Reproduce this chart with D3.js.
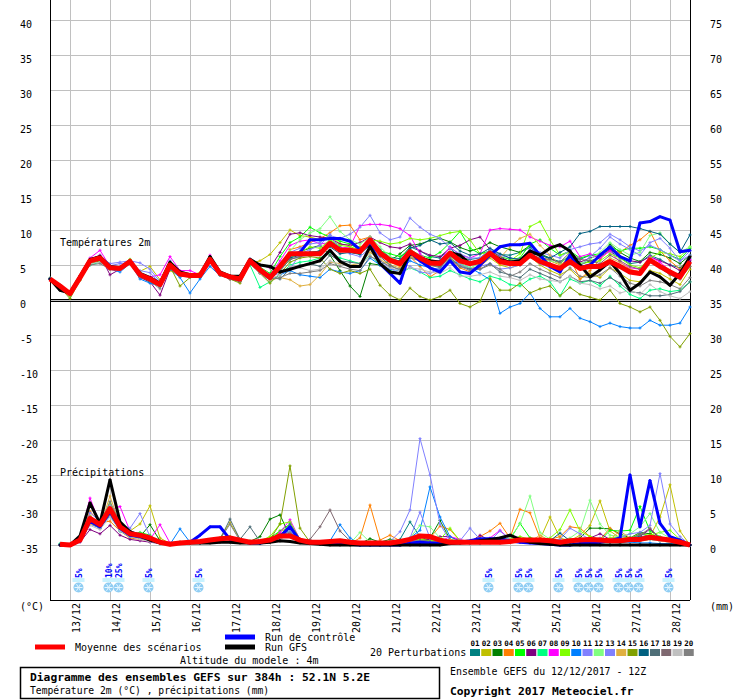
<!DOCTYPE html>
<html>
<head>
<meta charset="utf-8">
<script src="https://cdn.jsdelivr.net/npm/d3@7"></script>
<style>
  body { margin: 0; background: #fff; }
  svg text { font-family: "DejaVu Sans Mono", monospace; fill: #000; }
</style>
</head>
<body>
<svg id="chart" width="740" height="700"></svg>
<script>
// run 12/12/2017 12Z, one value every 6h (temp from 0h, precip from 6h)
const dayLabels = ["13/12","14/12","15/12","16/12","17/12","18/12","19/12","20/12","21/12","22/12","23/12","24/12","25/12","26/12","27/12","28/12"];
const tempTicks = [-35,-30,-25,-20,-15,-10,-5,0,5,10,15,20,25,30,35,40];
const precipTicks = [0,5,10,15,20,25,30,35,40,45,50,55,60,65,70,75];
const memberColors = ["#008080","#c0c000","#008000","#ff8000","#00ff00","#800080","#00ff80","#ff00ff","#80ff00","#0080ff",
                      "#8080ff","#80ff80","#8080ff","#e0b040","#80a000","#006080","#4f6f78","#7f6870","#c0c0c0","#808080"];

const tempMean = [3.0,2.0,0.9,3.2,5.6,6.0,4.6,4.5,5.5,3.6, 3.0,2.2,5.0,3.7,3.5,3.5,5.8,3.8,3.3,3.0, 5.6,4.3,3.2,4.8,6.6,6.6,6.6,6.6,8.1,7.1,
  7.1,6.9,8.6,6.7,5.7,5.2,6.9,6.0,5.3,5.2, 6.7,5.6,5.2,5.5,6.7,5.5,5.2,5.2,6.4,5.5, 5.0,4.5,5.5,4.5,4.8,4.8,5.5,4.8,4.0,3.8, 5.7,4.8,4.0,3.3,5.5];
const tempControl = [3.0,2.0,0.9,3.2,5.6,6.1,4.6,4.5,5.5,3.6, 3.0,2.2,5.0,3.7,3.5,3.5,5.8,3.8,3.2,3.0, 5.6,4.3,3.2,4.8,6.4,6.8,8.6,8.6,8.8,8.8,
  8.4,7.2,8.0,5.2,3.8,2.4,6.8,5.6,4.6,4.0, 5.6,4.0,3.8,5.0,6.4,7.6,7.9,7.9,8.1,6.4, 4.8,4.0,6.4,4.6,5.0,6.4,7.6,6.2,5.6,11.0, 11.2,11.9,11.4,6.9,7.1];
const tempGfs = [3.0,1.4,1.0,3.4,5.8,6.2,4.8,4.6,5.6,3.8, 3.2,2.4,5.4,4.0,3.6,3.6,6.2,4.0,3.4,3.4, 5.8,5.0,4.8,4.0,4.4,4.8,5.2,5.6,7.1,5.5,
  4.8,4.8,7.6,5.2,4.0,3.8,6.7,6.0,5.6,5.4, 6.8,6.4,5.2,5.6,6.6,5.8,5.4,5.6,7.0,6.4, 7.4,7.9,7.0,5.0,3.3,4.3,5.5,3.8,1.4,2.4, 4.0,3.3,2.1,3.8,6.2];
const tempPerturbations = [
  [3.0,1.8,0.8,3.4,5.8,5.9,4.5,4.4,5.3,3.4, 2.8,2.0,4.9,3.6,3.4,3.4,5.6,3.6,3.2,2.8, 5.4,4.1,3.0,4.2,5.8,6.2,6.8,7.0,8.5,7.6, 6.8,6.5,8.8,7.2,6.1,5.9,7.6,7.0,6.2,6.0, 7.4,6.0,5.8,6.0,7.2,6.5,6.4,6.8,7.5,6.4, 5.9,5.5,6.2,5.8,6.4,6.2,7.0,6.0,5.2,5.4, 6.4,5.8,5.0,4.6,6.0],
  [3.1,2.0,1.0,3.0,5.4,6.2,4.8,4.6,5.6,4.1, 4.8,2.9,4.2,3.5,3.6,3.9,5.5,3.7,3.4,3.3, 5.2,5.6,6.5,8.2,10.0,9.2,9.0,8.6,9.2,8.0, 7.8,7.6,8.0,6.6,5.4,5.0,6.2,5.6,4.9,4.8, 6.0,5.0,4.5,4.8,6.0,5.0,4.6,5.0,6.2,5.0, 4.2,3.6,4.4,3.0,3.8,3.2,4.6,3.8,2.8,2.6, 4.2,3.8,3.0,2.2,4.4],
  [3.0,2.1,0.8,3.3,5.7,6.1,4.7,4.4,5.6,3.4, 2.5,2.0,5.1,3.8,3.3,3.2,6.0,3.9,3.1,2.7, 5.5,4.4,3.0,4.5,6.0,6.9,7.4,7.8,6.4,4.2, 2.0,0.5,5.2,5.0,5.6,6.6,7.8,8.0,8.5,8.8, 8.3,7.5,7.0,7.4,8.2,7.6,7.2,6.8,7.8,6.6, 6.0,5.2,6.4,5.0,5.6,6.0,8.0,6.8,6.0,5.5, 6.8,6.5,6.0,5.2,6.4],
  [3.0,2.0,1.0,3.1,5.5,6.3,4.6,4.3,5.4,3.8, 3.2,2.4,4.8,3.9,3.6,3.5,5.9,3.9,3.5,3.1, 5.8,4.5,3.5,5.0,7.2,7.6,8.2,8.8,9.6,10.6, 10.7,8.6,9.0,6.8,5.4,4.8,6.2,4.8,3.3,4.2, 5.8,4.6,4.0,4.6,6.4,5.2,5.0,5.4,7.0,6.2, 5.6,5.0,6.0,3.0,4.2,5.8,7.2,6.8,7.8,8.6, 9.8,7.0,5.6,4.4,6.2],
  [3.1,2.0,0.6,3.0,5.3,5.8,4.8,4.7,5.6,3.7, 2.8,2.3,4.8,3.5,3.4,3.3,5.7,3.6,3.2,2.9, 5.3,4.7,3.8,6.2,8.2,9.0,10.4,9.6,9.0,8.4, 8.0,7.2,8.0,7.0,6.6,6.2,7.2,6.4,6.0,6.8, 8.2,9.8,7.4,6.6,7.0,6.2,5.8,6.0,8.0,8.6, 7.4,6.4,7.0,6.0,6.4,6.6,7.6,7.0,7.4,7.4, 7.6,7.2,6.4,5.8,7.4],
  [3.0,2.0,1.0,3.3,5.8,6.4,3.6,4.4,5.3,3.2, 2.6,0.7,4.4,3.6,3.3,3.4,5.9,3.6,3.0,2.6, 5.6,5.0,4.6,6.8,9.4,9.6,9.2,9.0,8.8,8.0, 7.8,8.2,9.0,8.2,7.6,7.4,8.0,7.0,6.4,6.2, 7.4,7.8,8.6,9.0,7.2,6.2,5.4,5.0,6.6,5.6, 5.2,4.6,5.8,5.4,6.0,6.4,7.2,6.2,5.6,5.4, 6.2,5.6,5.0,4.2,5.6],
  [3.1,2.0,0.9,3.0,5.0,5.4,4.6,4.6,5.4,3.4, 2.7,2.1,5.0,3.6,3.5,3.5,5.6,3.8,3.3,3.0, 5.0,1.8,2.6,3.6,5.0,5.4,5.6,6.0,6.8,6.0, 5.6,5.2,6.4,5.0,4.2,3.8,4.6,4.0,3.2,3.4, 4.2,3.6,3.0,2.6,3.4,3.0,2.2,2.0,3.0,3.4, 2.6,0.6,3.0,2.4,2.8,2.0,3.4,2.0,0.8,0.2, 1.4,1.6,1.2,1.4,2.6],
  [3.1,2.1,1.0,3.4,6.0,7.1,4.8,4.7,5.6,3.8, 3.3,3.6,6.2,4.2,4.2,3.6,6.4,4.0,3.4,3.1, 5.8,4.6,3.6,5.6,7.8,8.4,8.6,8.0,8.2,7.4, 7.6,10.6,10.8,10.8,10.6,10.2,9.2,6.6,5.4,5.6, 7.6,6.4,6.0,6.6,10.0,10.2,10.1,10.0,9.0,8.4, 7.8,7.6,8.4,6.2,6.6,6.0,7.0,5.4,4.6,4.4, 6.2,5.4,4.2,3.4,5.8],
  [3.0,2.0,0.8,3.2,5.8,6.2,4.5,4.6,5.8,3.8, 3.2,2.0,5.2,3.8,3.6,3.7,6.2,4.0,3.2,2.8, 5.8,4.2,3.0,4.4,6.0,6.8,7.6,7.4,8.6,7.8, 7.6,7.2,8.6,8.4,8.0,8.2,8.8,8.6,8.8,9.2, 9.6,9.8,8.6,6.6,6.8,5.6,5.6,6.6,10.5,11.2, 8.6,6.4,6.8,5.2,5.4,5.6,6.6,6.0,5.0,4.6, 6.0,6.8,6.6,6.2,7.6],
  [3.0,1.9,0.9,3.1,5.4,5.6,4.4,4.0,5.2,3.0, 2.4,2.0,4.4,3.2,1.0,3.0,4.8,3.5,3.2,2.9, 5.2,3.8,2.8,3.6,4.2,3.6,3.4,3.2,4.4,4.0, 3.8,4.2,6.0,5.0,4.4,4.2,5.6,5.0,4.6,4.4, 5.6,5.2,4.6,3.8,2.9,-1.9,-1.0,-0.5,1.0,-1.2, -2.4,-2.4,-1.2,-2.6,-3.1,-3.8,-3.3,-3.8,-4.0,-4.0, -2.9,-3.6,-3.6,-3.3,-1.0],
  [3.0,2.0,1.0,3.3,5.6,6.0,4.9,5.2,5.3,4.2, 3.9,2.4,5.6,3.9,3.6,3.6,5.8,3.7,3.4,3.1, 5.9,4.4,3.4,5.2,6.8,7.4,8.0,8.2,9.2,8.8, 9.4,10.4,12.1,9.6,8.6,9.0,11.7,10.4,9.4,8.8, 7.4,6.6,6.0,6.0,7.2,6.4,6.0,5.8,7.2,6.8, 6.4,6.0,7.2,7.6,8.0,8.2,9.4,8.6,7.6,7.0, 7.8,7.2,6.4,5.6,7.0],
  [3.1,2.1,0.8,2.9,5.2,5.6,4.6,4.5,5.4,3.6, 3.0,2.2,5.0,3.6,3.4,3.4,5.6,3.6,3.2,3.0, 5.4,4.0,3.1,4.6,7.0,8.6,9.6,10.2,11.9,9.8, 8.6,8.0,9.0,7.6,6.2,5.4,6.8,6.0,5.4,5.2, 6.2,5.2,4.6,5.2,6.4,5.6,5.2,5.8,6.6,5.8, 5.6,5.2,6.6,5.2,5.8,6.8,8.2,7.2,6.4,6.8, 9.2,9.6,8.0,6.8,7.6],
  [3.0,2.1,1.0,3.3,5.6,6.3,5.2,5.4,5.6,5.3, 4.4,2.6,4.6,3.6,3.4,3.6,5.8,3.7,3.3,3.0, 5.5,4.2,3.4,3.8,4.4,6.6,7.2,7.8,9.4,7.2, 6.6,6.2,7.4,5.6,4.6,3.6,4.8,4.0,3.8,4.6, 6.4,5.0,4.4,4.8,5.2,4.4,4.6,5.0,6.2,5.2, 4.6,4.4,5.6,4.8,6.2,7.4,9.0,8.0,7.2,6.4, 8.2,8.8,7.4,5.6,6.4],
  [3.0,2.0,0.9,3.1,5.5,5.8,4.5,4.6,5.6,3.6, 3.1,2.3,5.1,3.7,3.6,3.7,5.8,3.8,3.3,3.0, 5.6,4.0,2.8,3.2,2.9,2.0,2.2,3.6,5.4,5.2, 5.0,5.2,6.8,5.8,5.0,4.6,6.2,5.8,5.2,5.4, 6.4,5.4,5.0,5.6,6.8,6.0,7.6,8.8,9.4,7.8, 6.4,5.0,5.8,4.4,4.8,5.0,6.0,5.4,4.4,4.0, 5.4,4.6,3.6,3.0,4.8],
  [3.0,1.8,0.2,2.8,5.2,5.6,4.4,4.5,5.8,3.4, 2.8,2.2,4.8,2.0,3.2,3.4,5.4,3.6,3.0,2.4, 5.2,3.8,2.4,3.8,5.4,6.0,6.2,6.0,4.4,3.8, 4.2,3.8,4.4,2.1,0.7,0.0,1.7,0.5,0.0,0.5, 1.4,-0.5,-1.0,-0.2,3.1,1.4,1.4,2.4,1.0,1.6, 2.0,0.6,1.8,0.8,0.4,0.0,1.4,-0.5,-1.0,-1.7, -1.0,-2.9,-5.2,-6.7,-4.8],
  [3.0,1.9,0.9,3.2,5.7,5.9,4.6,4.4,5.5,3.5, 2.8,2.0,4.9,3.6,3.4,3.3,5.7,3.8,3.2,2.9, 5.6,4.5,3.4,4.6,6.0,6.4,6.8,7.0,7.6,6.6, 6.8,6.6,7.8,6.4,5.8,5.6,7.4,7.8,8.6,8.0, 8.2,7.0,6.4,6.6,7.4,6.6,6.0,5.8,6.6,6.4, 6.0,6.8,7.6,9.5,9.8,10.5,10.5,10.5,10.5,10.2, 9.8,9.4,8.0,6.8,9.3],
  [3.0,2.0,0.9,3.2,5.5,5.8,4.5,4.4,5.4,3.6, 3.0,2.3,5.2,3.8,3.4,3.6,6.0,4.0,3.5,3.2, 5.6,4.2,3.2,3.0,4.4,5.0,5.2,4.8,6.4,5.6, 5.4,5.2,7.6,6.2,5.0,4.2,6.6,5.8,5.0,4.8, 6.0,4.8,4.4,4.4,5.2,4.0,3.6,3.2,4.4,3.8, 3.2,2.6,3.4,2.6,2.8,2.4,3.2,2.4,1.2,1.0, 0.6,0.6,0.8,1.2,2.6],
  [3.0,2.0,0.9,3.3,5.7,6.1,4.7,4.6,5.5,3.8, 3.2,2.4,5.2,3.8,3.6,3.6,6.0,3.9,3.4,3.1, 5.7,4.4,3.4,4.2,5.8,6.2,6.4,6.8,8.0,7.2, 7.0,6.8,8.2,6.4,5.6,5.4,6.8,6.2,5.6,5.6, 6.8,5.8,5.4,5.8,6.6,5.8,5.6,5.8,6.6,6.0, 5.8,5.4,6.8,5.8,5.6,5.2,6.4,5.6,4.8,4.4, 5.6,4.6,3.6,3.0,4.8],
  [3.0,2.0,0.9,3.1,5.2,5.4,4.4,4.3,5.2,3.4, 2.9,2.1,4.8,3.5,3.3,3.4,5.6,3.6,3.1,2.8, 5.2,3.8,3.0,3.6,4.8,4.6,4.2,4.4,5.6,5.0, 5.0,4.8,6.4,5.2,4.6,4.2,4.6,4.4,4.0,3.8, 4.6,3.4,3.4,3.6,4.0,3.4,3.2,2.8,3.6,3.0, 2.8,2.6,3.4,2.4,2.2,1.6,2.0,1.0,1.4,0.8, 2.2,1.2,0.6,0.2,1.2],
  [3.0,2.0,0.8,3.0,5.0,5.2,4.4,4.4,5.3,3.3, 2.7,1.6,4.6,3.4,3.3,3.4,5.7,3.6,3.0,2.7, 5.4,3.9,3.0,3.2,3.8,3.8,4.0,4.2,5.2,4.8, 4.4,4.2,6.2,5.6,4.8,4.4,6.0,5.6,5.0,4.6, 5.8,4.8,4.2,4.4,5.0,4.4,3.4,4.0,5.2,4.4, 3.8,3.2,4.6,3.4,3.2,3.6,4.6,3.4,2.4,2.0, 2.8,2.6,2.2,1.6,3.2]
];

const precipMean = [0.1,0.0,0.7,3.8,2.9,5.2,2.6,1.6,1.4,1.0, 0.4,0.1,0.3,0.4,0.5,0.7,0.9,1.0,0.7,0.4, 0.5,0.7,1.3,1.3,0.7,0.4,0.4,0.5,0.6,0.4,
  0.3,0.3,0.3,0.3,0.5,0.8,1.3,1.2,0.7,0.4, 0.4,0.4,0.4,0.4,0.4,0.5,0.7,0.7,0.7,0.6, 0.4,0.6,0.7,0.8,0.7,0.6,0.6,0.8,0.8,1.1, 0.9,0.7,0.4,0.0];
const precipControl = [0,0,0.6,3.4,2.6,4.8,2.4,1.4,1.2,0.8, 0.4,0.1,0.3,0.4,1.4,2.6,2.6,0.8,0.5,0.3, 0.3,0.5,1.2,2.6,0.6,0.3,0.3,0.4,0.2,0.1,
  0,0,0,0,0,0.3,0.4,0.3,0.2,0.3, 0.4,0.6,0.9,0.9,0.9,0.6,0.4,0.3,0.2,0.1, 0,0,0.2,0.3,0.4,0.6,1.0,10.0,2.6,9.2, 3.1,1.2,0.7,0];
const precipGfs = [0,0,1.3,6.0,3.1,9.3,3.3,1.9,1.3,0.7, 0.3,0.2,0.3,0.3,0.3,0.3,0.4,0.4,0.3,0.3, 0.3,0.4,0.6,0.5,0.3,0.2,0.1,0,0,0,
  0,0,0,0,0,0,0,0,0,0.2, 0.3,0.4,0.6,0.8,1.0,1.4,0.8,0.4,0.2,0.1, 0,0,0,0,0,0,0,0,0,0, 0,0,0,0];
const precipPerturbations = [
  [0.1,0,0.8,3.2,2.4,4.8,2.6,1.4,1.0,0.6, 0.2,0,0.3,0.4,0.3,0.5,0.8,1.2,0.6,0.3, 0.2,0.4,1.0,1.2,0.5,0.2,0.2,0.3,0.4,0.2, 0.1,0.2,0.3,0.4,0.8,3.3,1.2,0.6,0.4,0.2, 0.3,0.2,0.2,0.3,0.3,0.4,0.6,0.8,0.5,0.4, 0.3,0.8,0.6,0.8,0.5,0.4,0.3,0.5,0.6,0.8, 0.6,0.4,0.2,0],
  [0,0,0.6,4.2,3.0,5.8,3.2,2.0,3.0,5.6, 1.0,0.2,0.4,0.3,0.5,0.6,1.0,3.2,0.8,0.3, 0.4,0.6,2.0,2.4,0.6,0.3,0.2,0.3,0.2,0.2, 0.1,0.3,0.2,0.3,0.4,0.6,0.8,0.4,0.3,0.6, 0.4,0.3,0.4,0.5,0.3,0.6,0.4,1.0,0.8,4.0, 1.0,0.6,1.4,2.8,6.3,2.0,1.0,0.6,0.8,1.2, 4.0,8.6,2.0,0],
  [0,0,0.8,3.6,2.8,4.6,2.2,1.4,1.2,2.9, 0.6,0.2,0.3,0.4,0.4,0.6,0.8,1.0,0.6,0.5, 1.2,3.7,4.3,1.2,0.6,0.3,0.3,0.4,0.3,0.2, 0.2,0.9,0.4,0.8,0.5,0.6,0.4,1.0,3.5,0.8, 0.4,0.3,0.4,0.5,0.6,0.5,0.8,0.6,0.6,0.8, 0.5,0.6,1.0,2.4,2.4,2.3,1.6,1.0,1.8,1.6, 1.0,0.6,0.4,0],
  [0,0,1.0,4.8,3.2,3.4,2.0,1.0,0.8,0.6, 0.3,0.1,0.3,0.5,0.4,0.6,0.8,1.2,0.6,0.4, 0.3,0.5,1.0,1.2,0.4,0.3,0.3,0.4,0.3,0.2, 1.0,5.7,0.7,1.4,0.6,0.8,0.6,1.0,2.7,2.2, 0.6,0.5,1.2,2.0,3.1,1.0,5.1,4.6,1.0,0.8, 1.2,2.6,2.4,1.2,0.8,2.4,1.4,0.8,0.6,1.2, 0.8,0.6,0.3,0],
  [0,0,0.7,3.8,2.6,5.0,2.4,1.6,1.8,1.4, 0.3,0.1,0.3,0.4,0.5,0.6,0.9,1.0,0.8,0.6, 0.5,1.0,2.0,3.0,0.8,0.4,0.3,0.4,0.3,0.3, 0.2,0.4,0.3,0.5,0.4,0.6,0.8,0.6,0.5,0.4, 0.3,0.4,0.5,0.8,0.6,0.8,3.1,1.0,0.8,0.6, 0.5,0.8,0.6,0.8,0.6,2.1,2.0,2.1,5.5,2.0, 1.2,0.8,0.4,0],
  [0,0,0.4,2.2,1.6,2.8,1.4,0.8,0.6,0.4, 0.2,0.1,0.2,0.3,0.3,0.4,0.6,0.6,0.4,0.3, 0.3,0.5,1.0,1.4,0.5,0.2,0.2,0.3,0.2,0.2, 0.1,0.2,0.2,0.3,0.4,0.5,0.6,0.8,1.2,1.2, 0.6,0.4,1.4,0.6,0.4,0.6,0.8,0.6,0.5,0.4, 0.4,0.6,0.8,1.0,1.6,0.8,0.6,0.8,1.2,2.3, 0.8,0.4,0.2,0],
  [0.2,0,0.9,3.4,2.8,4.4,2.0,1.2,1.0,0.8, 0.4,0.2,0.4,0.5,0.4,0.5,0.8,0.9,0.6,0.4, 0.4,0.6,1.6,2.0,0.6,0.4,0.3,0.4,0.3,0.3, 0.2,0.3,0.3,0.4,0.6,0.8,0.6,0.6,0.5,0.4, 0.3,0.4,0.5,0.6,0.8,0.6,0.8,0.7,0.6,0.5, 0.4,0.6,0.6,0.8,0.6,0.6,0.8,1.0,1.2,1.0, 0.8,0.6,0.3,0],
  [0,0,1.2,6.7,3.0,5.0,5.5,2.0,1.0,0.8, 2.9,0.3,0.3,0.4,0.3,0.5,0.6,0.8,0.5,0.3, 0.3,0.6,1.8,3.6,0.8,0.3,0.3,0.4,0.3,0.2, 0.2,0.3,0.3,0.4,0.5,0.8,0.7,0.6,0.5,1.2, 0.8,0.4,0.6,1.0,2.1,0.8,0.6,0.5,0.6,0.4, 0.5,0.6,0.8,0.6,0.5,0.6,0.8,0.6,0.7,0.9, 0.8,0.4,0.3,0],
  [0,0,0.8,4.0,3.2,6.0,3.0,1.6,1.4,1.0, 0.3,0.2,0.4,0.4,0.5,0.6,1.0,1.2,0.8,0.5, 0.6,1.2,3.0,3.3,0.8,0.4,0.3,0.4,0.3,0.3, 0.2,0.3,0.4,0.5,0.4,0.6,0.8,0.6,0.8,2.4, 0.6,0.4,0.5,0.8,0.6,0.8,1.2,0.8,0.6,1.0, 2.2,5.0,2.0,1.2,0.8,1.0,1.2,1.0,1.6,1.4, 1.8,2.1,0.8,0],
  [0,0,0.6,3.0,2.4,4.2,2.0,1.2,1.0,0.6, 0.2,0.1,2.3,0.4,0.3,0.4,0.6,0.8,0.5,0.3, 0.3,0.4,1.0,1.4,0.5,0.3,0.4,0.6,2.9,1.0, 0.2,0.3,0.3,0.4,0.6,1.0,2.1,8.3,4.0,1.2, 0.4,0.2,0.3,0.4,0.3,0.4,0.5,0.4,0.3,0.4, 0.3,0.4,0.5,0.4,0.3,0.4,0.5,0.4,0.3,0.3, 0.2,0.2,0.1,0],
  [0,0,1.0,4.6,3.4,5.6,3.0,2.4,4.5,1.2, 0.4,0.2,0.4,0.5,0.5,0.6,0.8,1.0,0.6,0.4, 0.4,0.6,1.4,2.0,0.6,0.3,0.3,0.4,0.3,0.3, 0.2,0.3,0.4,0.5,1.9,5.0,15.2,10.0,3.0,0.6, 0.4,0.3,0.4,0.5,0.4,0.5,0.6,0.5,0.6,0.5, 0.4,0.6,0.8,0.6,0.5,0.6,0.8,0.8,1.0,1.2, 1.0,0.6,0.4,0],
  [0,0,0.8,3.6,2.6,4.8,2.4,1.4,1.2,0.8, 0.3,0.2,0.3,0.5,0.4,0.5,0.7,0.9,0.6,0.4, 0.4,0.6,1.2,1.6,0.6,0.4,0.3,0.4,0.3,0.2, 1.8,0.4,0.3,0.4,0.6,1.0,2.8,2.6,1.0,0.6, 0.4,0.5,0.8,0.6,0.8,1.0,3.0,7.0,1.8,0.8, 0.6,1.0,2.0,6.4,3.0,1.4,1.2,1.6,2.6,4.5, 1.8,1.0,0.6,0],
  [0,0,0.9,4.0,3.0,5.4,2.8,2.0,1.6,1.2, 0.4,0.2,0.3,0.4,0.4,0.5,0.8,1.0,0.6,0.4, 0.4,0.6,1.4,1.8,0.6,0.3,0.3,0.4,0.3,0.3, 0.2,0.3,0.4,0.5,0.6,1.0,4.7,1.0,0.6,0.4, 0.6,2.4,0.8,0.6,2.0,0.8,0.6,0.5,0.6,0.6, 0.8,2.4,1.6,0.8,1.0,0.8,1.0,1.6,1.8,2.8, 10.2,3.0,1.2,0],
  [0,0,0.8,3.0,2.6,7.0,2.8,1.6,1.2,0.8, 0.3,0.1,0.2,0.3,0.3,0.4,0.6,0.8,0.4,0.3, 0.3,0.4,1.0,1.2,0.4,0.2,0.2,0.3,0.2,0.2, 0.2,0.3,0.3,0.6,0.4,0.5,0.6,0.5,0.4,0.8, 0.6,0.3,0.4,0.5,0.4,0.8,0.6,0.5,1.4,0.6, 0.4,0.5,0.6,0.8,0.6,0.8,2.0,1.0,0.6,0.8, 0.6,0.4,0.2,0],
  [0,0,0.7,3.4,2.8,4.6,2.4,1.4,1.2,0.8, 0.3,0.2,0.3,0.4,0.4,0.5,0.8,1.0,0.6,0.4, 0.4,0.8,3.0,11.3,2.4,0.4,0.3,0.4,0.3,0.2, 0.2,0.3,0.3,0.4,0.5,0.7,0.6,0.5,0.4,0.4, 0.3,0.4,0.5,0.6,0.5,0.6,0.8,0.6,0.5,0.6, 0.4,0.6,0.8,0.6,0.5,0.6,0.8,0.8,1.0,1.2, 0.8,0.6,0.3,0],
  [0,0,0.7,3.2,2.6,4.4,2.2,1.4,1.0,0.6, 0.3,0.1,0.3,0.4,0.4,0.5,0.7,0.9,0.5,0.4, 0.4,0.6,1.2,1.6,0.5,0.3,0.3,0.4,0.3,0.2, 0.2,0.3,0.3,0.4,0.6,0.8,0.6,0.5,0.4,0.4, 0.3,0.4,0.5,0.6,0.5,0.6,0.8,0.6,0.8,0.6, 1.7,0.6,0.8,0.6,0.6,0.7,0.8,1.0,1.2,1.0, 0.8,0.5,0.3,0],
  [0,0,0.8,3.6,2.8,5.0,2.6,1.6,1.2,0.8, 0.4,0.2,0.3,0.5,0.4,0.6,0.8,3.7,0.8,2.6, 0.5,0.6,1.4,3.0,0.8,0.3,0.3,0.4,0.3,0.2, 0.2,0.3,0.3,0.4,0.5,0.8,0.6,0.5,0.4,0.4, 0.3,0.4,0.5,0.6,0.5,0.6,0.8,0.6,0.5,0.6, 0.5,0.6,0.8,0.6,0.5,0.6,0.8,0.8,1.6,1.2, 0.8,0.6,0.3,0],
  [0,0,0.7,3.2,2.4,4.4,2.4,1.4,1.0,0.6, 0.3,0.2,0.3,0.4,0.4,0.5,0.7,0.8,0.5,0.4, 0.4,0.6,1.2,1.6,0.6,0.8,2.6,5.0,2.0,0.6, 0.2,0.3,0.3,0.4,0.5,0.7,0.6,0.5,0.4,0.4, 0.3,0.4,0.5,0.6,0.5,0.6,0.8,0.6,0.5,0.6, 0.5,0.6,0.8,0.6,0.5,0.6,0.8,1.0,1.4,2.4, 1.0,0.6,0.3,0],
  [0,0,0.6,2.8,2.2,4.0,2.0,1.2,0.8,0.5, 0.2,0.1,0.2,0.3,0.3,0.4,0.6,0.7,0.4,0.3, 0.3,0.4,1.0,1.2,0.4,0.2,0.2,0.3,0.2,0.2, 0.2,0.2,0.3,0.3,0.4,0.6,0.5,0.4,0.3,0.3, 0.2,0.3,0.4,0.5,0.4,0.5,0.6,0.5,0.4,0.5, 0.4,0.5,0.6,0.5,0.4,0.5,0.6,0.6,0.8,0.8, 0.6,0.4,0.2,0],
  [0,0,0.9,3.8,3.0,6.2,3.2,1.8,1.4,1.0, 0.4,0.2,0.3,0.4,0.4,0.6,0.8,3.0,0.6,0.4, 0.4,0.6,1.4,1.8,0.6,0.3,0.3,0.4,0.3,0.2, 0.2,0.3,0.3,0.4,0.5,0.8,0.6,0.5,0.4,0.4, 0.3,0.4,0.5,0.6,0.5,0.6,0.8,0.6,0.5,0.6, 0.5,0.6,0.8,0.6,0.5,0.6,0.8,0.8,1.0,1.2, 0.8,0.6,0.3,0]
];

// snow probability markers (forecast hour, label)
const snowHours = [18,36,42,60,90,264,282,288,306,318,324,330,342,348,354,372];
const snowLabels = ["5%","10%","25%","5%","5%","5%","5%","5%","5%","5%","5%","5%","5%","5%","5%","5%"];

const svg = d3.select("#chart");
const x = d3.scaleLinear().domain([0, 384]).range([50, 690]);
const yT = d3.scaleLinear().domain([-35, 40]).range([545, 20]);
const yP = d3.scaleLinear().domain([0, 75]).range([545, 20]);
const tempHours = tempMean.map((d, i) => i * 6);
const precipHours = precipMean.map((d, i) => (i + 1) * 6);
const dayHours = dayLabels.map((d, i) => 12 + i * 24);

// horizontal grid + left labels
const leftAxis = svg.append("g").attr("transform", "translate(50,0)")
  .call(d3.axisLeft(yT).tickValues(tempTicks).tickSize(-640).tickFormat(d => String(d)));
leftAxis.select(".domain").remove();
leftAxis.selectAll(".tick line").attr("stroke", "#c0c0c0");
leftAxis.selectAll(".tick text").attr("x", -30).attr("y", 3.5).attr("dy", "0.35em")
  .attr("text-anchor", "start").attr("font-size", 10).attr("font-family", "DejaVu Sans Mono");

const rightAxis = svg.append("g").attr("transform", "translate(690,0)")
  .call(d3.axisRight(yP).tickValues(precipTicks).tickSize(0).tickFormat(d => String(d)));
rightAxis.select(".domain").remove();
rightAxis.selectAll(".tick text").attr("x", 20).attr("y", 3.5).attr("dy", "0.35em")
  .attr("text-anchor", "start").attr("font-size", 10).attr("font-family", "DejaVu Sans Mono");

// vertical day grid + rotated date labels
const bottomAxis = svg.append("g").attr("transform", "translate(0,600)")
  .call(d3.axisBottom(x).tickValues(dayHours).tickSize(-600).tickFormat((d, i) => dayLabels[i]));
bottomAxis.select(".domain").remove();
bottomAxis.selectAll(".tick line").attr("stroke", "#c0c0c0");
bottomAxis.selectAll(".tick text").attr("transform", "rotate(-90)")
  .attr("x", -3).attr("y", 9.5).attr("dy", null).attr("text-anchor", "end")
  .attr("font-size", 10).attr("font-family", "DejaVu Sans Mono");

// frame
const frame = svg.append("g").attr("stroke", "#000").attr("shape-rendering", "crispEdges");
frame.append("line").attr("x1", 50).attr("x2", 50).attr("y1", 0).attr("y2", 600);
frame.append("line").attr("x1", 690).attr("x2", 690).attr("y1", 0).attr("y2", 600);
frame.append("line").attr("x1", 50).attr("x2", 690).attr("y1", 600).attr("y2", 600);
frame.append("line").attr("x1", 50).attr("x2", 690).attr("y1", yT(0) - 1).attr("y2", yT(0) - 1);
frame.append("line").attr("x1", 50).attr("x2", 690).attr("y1", yT(0) + 1).attr("y2", yT(0) + 1);

svg.append("text").attr("x", 60).attr("y", 242).attr("dy", "0.35em").attr("font-size", 10).text("Températures 2m");
svg.append("text").attr("x", 60).attr("y", 472).attr("dy", "0.35em").attr("font-size", 10).text("Précipitations");
svg.append("text").attr("x", 20).attr("y", 606).attr("dy", "0.35em").attr("font-size", 10).text("(°C)");
svg.append("text").attr("x", 710).attr("y", 606).attr("dy", "0.35em").attr("font-size", 10).text("(mm)");

function drawSeries(g, values, hours, yScale, color, width, marks) {
  const line = d3.line().x((d, i) => x(hours[i])).y(d => yScale(d));
  g.append("path").attr("d", line(values)).attr("fill", "none")
    .attr("stroke", color).attr("stroke-width", width).attr("stroke-linejoin", "round");
  if (marks) {
    let p = "";
    values.forEach((v, i) => {
      const px = x(hours[i]), py = yScale(v);
      p += `M${px - 1.5},${py}h3M${px},${py - 1.5}v3`;
    });
    g.append("path").attr("d", p).attr("stroke", color).attr("stroke-width", 1).attr("fill", "none");
  }
}

const plot = svg.append("g");
tempPerturbations.forEach((s, k) => drawSeries(plot, s, tempHours, yT, memberColors[k], 1, true));
precipPerturbations.forEach((s, k) => drawSeries(plot, s, precipHours, yP, memberColors[k], 1, true));
drawSeries(plot, tempControl, tempHours, yT, "#0000ff", 3, true);
drawSeries(plot, precipControl, precipHours, yP, "#0000ff", 3, true);
drawSeries(plot, tempGfs, tempHours, yT, "#000000", 3, true);
drawSeries(plot, precipGfs, precipHours, yP, "#000000", 3, true);
drawSeries(plot, tempMean, tempHours, yT, "#ff0000", 5, false);
drawSeries(plot, precipMean, precipHours, yP, "#ff0000", 5, false);

// snow markers
const snow = svg.append("g").selectAll("g").data(snowHours).join("g")
  .attr("transform", d => `translate(${x(d) - 1.5},587.5)`);
snow.append("rect").attr("x", -6).attr("y", -9.5).attr("width", 12).attr("height", 4).attr("fill", "#c8f2ff");
snow.append("circle").attr("r", 5).attr("fill", "#8fcdf3");
snow.append("path").attr("d", "M-4,0H4M-2,-3.4L2,3.4M-2,3.4L2,-3.4")
  .attr("stroke", "#e6f6ff").attr("stroke-width", 1).attr("fill", "none");
snow.append("text").attr("transform", "translate(3,-9.5) rotate(-90)")
  .attr("font-size", 8).attr("font-weight", "bold").style("fill", "#0000ff")
  .text((d, i) => snowLabels[i]);

// legend
const leg = svg.append("g").attr("font-size", 10);
leg.append("line").attr("x1", 35).attr("x2", 65).attr("y1", 647).attr("y2", 647).attr("stroke", "#ff0000").attr("stroke-width", 5);
leg.append("text").attr("x", 75).attr("y", 647).attr("dy", "0.35em").text("Moyenne des scénarios");
leg.append("line").attr("x1", 225).attr("x2", 255).attr("y1", 637).attr("y2", 637).attr("stroke", "#0000ff").attr("stroke-width", 5);
leg.append("text").attr("x", 265).attr("y", 637).attr("dy", "0.35em").text("Run de contrôle");
leg.append("line").attr("x1", 225).attr("x2", 255).attr("y1", 647).attr("y2", 647).attr("stroke", "#000").attr("stroke-width", 5);
leg.append("text").attr("x", 265).attr("y", 647).attr("dy", "0.35em").text("Run GFS");
leg.append("text").attr("x", 180).attr("y", 660).attr("dy", "0.35em").text("Altitude du modele : 4m");
leg.append("text").attr("x", 370).attr("y", 652).attr("dy", "0.35em").text("20 Perturbations");

const sw = leg.append("g").selectAll("g").data(memberColors).join("g")
  .attr("transform", (d, i) => `translate(${470 + i * 11.25},0)`);
sw.append("rect").attr("y", 649).attr("width", 10).attr("height", 7).attr("fill", d => d);
sw.append("text").attr("x", 5).attr("y", 643).attr("dy", "0.35em").attr("text-anchor", "middle")
  .attr("font-size", 7.5).attr("font-weight", "bold").text((d, i) => String(i + 1).padStart(2, "0"));

svg.append("rect").attr("x", 20.5).attr("y", 667.5).attr("width", 419).attr("height", 31)
  .attr("fill", "none").attr("stroke", "#000").attr("stroke-width", 1.5);
svg.append("text").attr("x", 30).attr("y", 677).attr("dy", "0.35em").attr("font-size", 11.3).attr("font-weight", "bold")
  .text("Diagramme des ensembles GEFS sur 384h : 52.1N 5.2E");
svg.append("text").attr("x", 30).attr("y", 691).attr("dy", "0.35em").attr("font-size", 9.7)
  .text("Température 2m (°C) , précipitations (mm)");
svg.append("text").attr("x", 450).attr("y", 672).attr("dy", "0.35em").attr("font-size", 9.9)
  .text("Ensemble GEFS du 12/12/2017 - 12Z");
svg.append("text").attr("x", 450).attr("y", 691).attr("dy", "0.35em").attr("font-size", 11.3).attr("font-weight", "bold")
  .text("Copyright 2017 Meteociel.fr");
</script>
</body>
</html>
